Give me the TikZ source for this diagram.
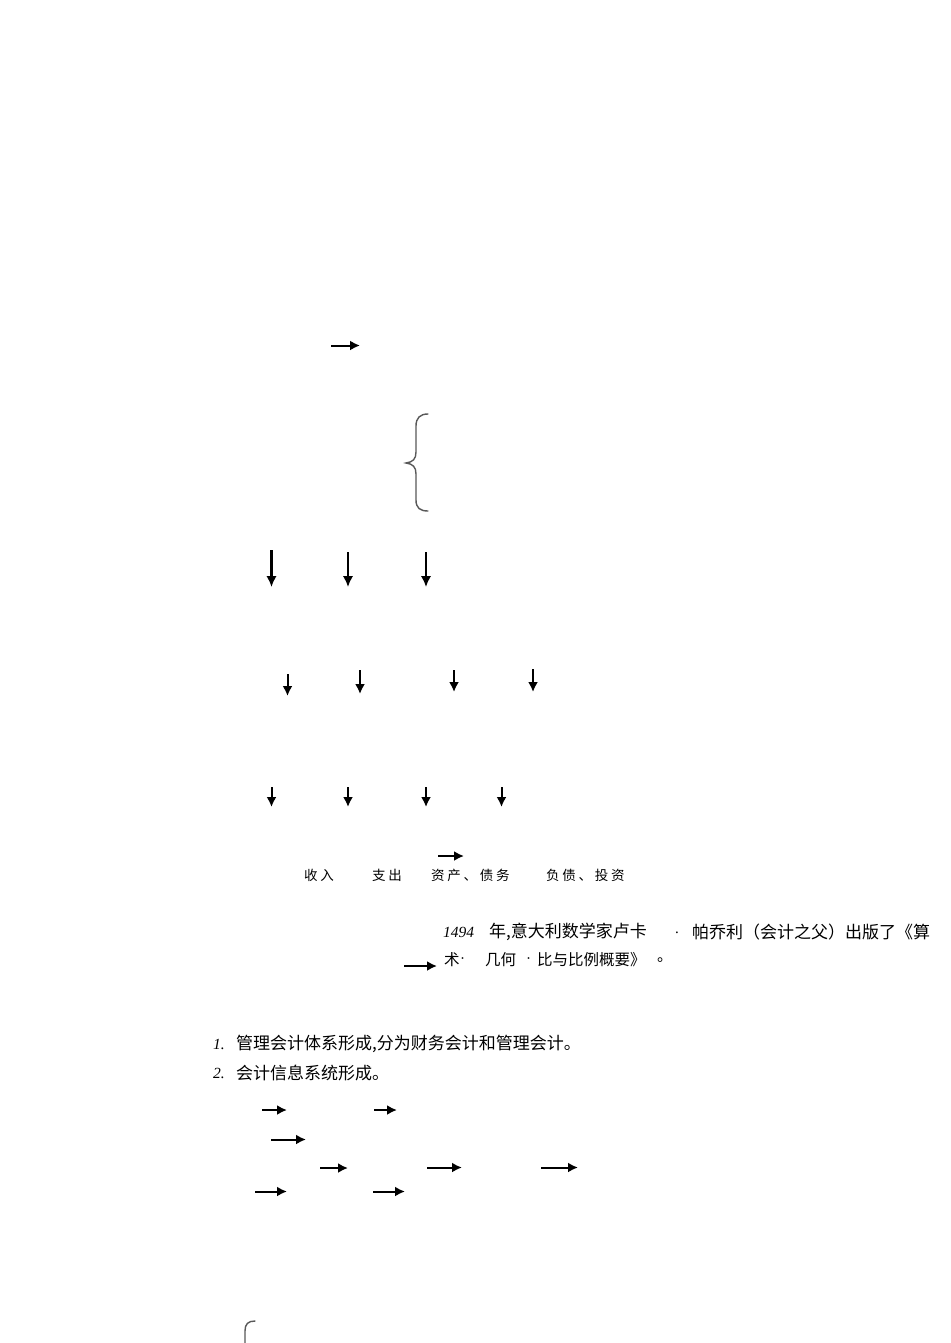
\documentclass[tikz,border=0pt]{standalone}
\usepackage{fontspec}
\setmainfont{Liberation Serif}
\newfontfamily\cjk{Noto Sans CJK SC}
\newfontfamily\cjkls[LetterSpace=20]{Noto Sans CJK SC}
\usetikzlibrary{arrows.meta}
\newcommand\myarrow[5]{\coordinate (#1s) at (#2,#3); \coordinate (#1e) at (#4,#5); \draw[arr] (#1s) -- (#1e);}
\begin{document}
\begin{tikzpicture}[x=1pt,y=-1pt,
  arr/.style={line width=2pt, -{Latex[length=10pt,width=10pt]}},
  bigarr/.style={line width=2.2pt, -{Latex[length=11pt,width=10.5pt]}},
  brace/.style={draw=black!65, line width=1.4pt, line cap=round},
  txt/.style={anchor=west, inner sep=0pt, font=\cjk\fontsize{17}{17}\selectfont},
  txtb/.style={anchor=west, inner sep=0pt, font=\cjk\fontsize{15.5}{15.5}\selectfont},
  dot/.style={anchor=west, inner sep=0pt, font=\fontsize{15}{15}\selectfont},
  row/.style={anchor=west, inner sep=0pt, font=\cjkls\fontsize{13.5}{13.5}\selectfont},
  num/.style={anchor=west, inner sep=0pt, font=\fontsize{15.5}{15.5}\selectfont\itshape}]
\fill[white] (0,0) rectangle (950,1343);
\useasboundingbox (0,0) rectangle (950,1343);

% top arrow
\myarrow{t}{331}{345.5}{360}{345.5}

% brace
\draw[brace] (428,414) .. controls (420,414) and (416,418) .. (416,426) -- (416,452)
  .. controls (416,459) and (413,462) .. (406,463)
  .. controls (413,464) and (416,467) .. (416,474) -- (416,500)
  .. controls (416,508) and (420,511) .. (428,511);

% row 1 down arrows
\coordinate (d1s) at (271.5,550); \coordinate (d1e) at (271.5,587); \draw[bigarr] (d1s) -- (d1e);
\coordinate (d2s) at (348,552); \coordinate (d2e) at (348,587); \draw[bigarr] (d2s) -- (d2e);
\coordinate (d3s) at (426,552); \coordinate (d3e) at (426,587); \draw[bigarr] (d3s) -- (d3e);

% row 2 down arrows
\myarrow{e1}{287.5}{674}{287.5}{696}
\myarrow{e2}{360}{670}{360}{694}
\myarrow{e3}{454}{670}{454}{692}
\myarrow{e4}{533}{669}{533}{692}

% row 3 down arrows
\myarrow{f1}{271.5}{787}{271.5}{807}
\myarrow{f2}{348}{787}{348}{807}
\myarrow{f3}{426}{787}{426}{807}
\myarrow{f4}{501.5}{787}{501.5}{807}

% arrow above row text
\myarrow{g}{438}{856}{464}{856}

% row text
\node[row] (r1) at (304,875) {收入};
\node[row] (r2) at (372,875) {支出};
\node[row] (r3) at (431,875) {资产、债务};
\node[row] (r4) at (546,875) {负债、投资};

% 1494 paragraph
\node[num] (n1494) at (443,932) {1494};
\node[txt] (l1a) at (489,932) {年,意大利数学家卢卡};
\node[dot] (l1dot) at (675,933) {.};
\node[txt] (l1b) at (692,932) {帕乔利（会计之父）出版了《算};
\myarrow{h}{404}{966}{437}{966}
\node[txtb] (l2a) at (444,960) {术};
\node[dot] (l2a2) at (460,961) {·};
\node[txtb] (l2b) at (485,960) {几何};
\node[dot] (l2c) at (526,961) {·};
\node[txtb] (l2d) at (537,960) {比与比例概要》};
\node[txtb] (l2e) at (657,960) {。};

% numbered list
\node[num] (k1) at (213,1044) {1.};
\node[txt] (k1t) at (236,1044) {管理会计体系形成,分为财务会计和管理会计。};
\node[num] (k2) at (213,1073) {2.};
\node[txt] (k2t) at (236,1073) {会计信息系统形成。};

% small horizontal arrows
\myarrow{p1}{262}{1110}{287}{1110}
\myarrow{p2}{374}{1110}{397}{1110}
\myarrow{q1}{271}{1139.5}{306}{1139.5}
\myarrow{s1}{320}{1168}{348}{1168}
\myarrow{s2}{427}{1167.5}{462}{1167.5}
\myarrow{s3}{541}{1167.5}{578}{1167.5}
\myarrow{u1}{255}{1191.5}{287}{1191.5}
\myarrow{u2}{373}{1191.5}{405}{1191.5}

% bottom brace (cut off)
\draw[brace] (255,1321) .. controls (248,1321) and (245,1324) .. (245,1331) -- (245,1345);
\end{tikzpicture}
\end{document}
